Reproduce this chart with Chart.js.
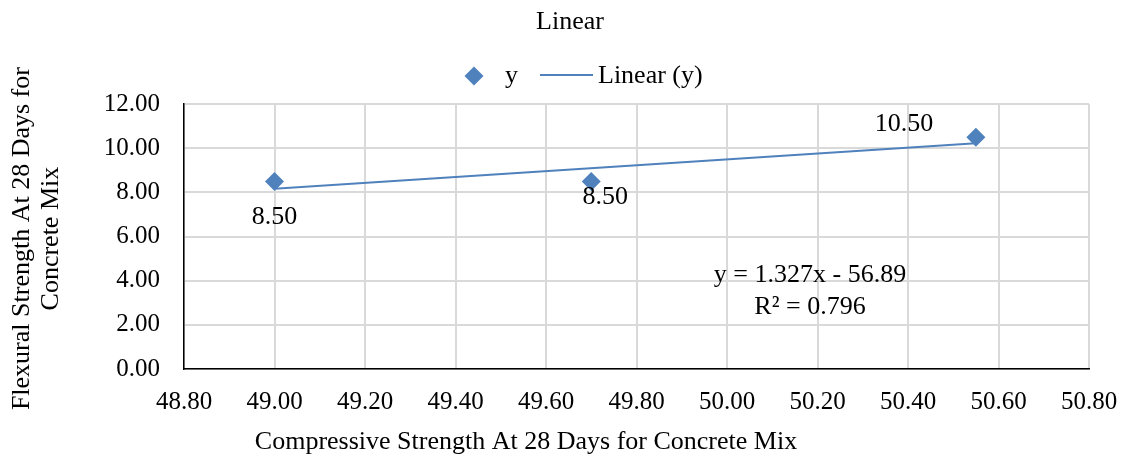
<!DOCTYPE html>
<html>
<head>
<meta charset="utf-8">
<script src="https://cdn.jsdelivr.net/npm/chart.js@4.4.1/dist/chart.umd.min.js"></script>
<style>
html,body{margin:0;padding:0;background:#ffffff;}
#wrap{width:1125px;height:464px;position:relative;}
</style>
</head>
<body>
<div id="wrap"><canvas id="c" width="1125" height="464"></canvas></div>
<script>
// ---- data ----
const xValues = [49.00, 49.70, 50.55];
const yValues = [8.50, 8.50, 10.50];
const xTicks = [48.8, 49.0, 49.2, 49.4, 49.6, 49.8, 50.0, 50.2, 50.4, 50.6, 50.8];
const yTicks = [0, 2, 4, 6, 8, 10, 12];
const seriesName = 'y';
const trendName = 'Linear (y)';
const chartTitle = 'Linear';
const xTitle = 'Compressive Strength At 28 Days for Concrete Mix';
const yTitle = ['Flexural Strength At 28 Days for', 'Concrete Mix'];
const equationLines = ['y = 1.327x - 56.89', 'R\u00B2 = 0.796'];

// ---- least squares trendline from the data ----
const n = xValues.length;
const mx = xValues.reduce((a, b) => a + b, 0) / n;
const my = yValues.reduce((a, b) => a + b, 0) / n;
let sxy = 0, sxx = 0;
for (let i = 0; i < n; i++) { sxy += (xValues[i] - mx) * (yValues[i] - my); sxx += (xValues[i] - mx) ** 2; }
const slope = sxy / sxx;
const intercept = my - slope * mx;
const xMin = Math.min(...xValues), xMax = Math.max(...xValues);
const trendData = [xMin, xMax].map(x => ({ x: x, y: slope * x + intercept }));

// ---- styles ----
const FONT = '"Liberation Serif", "Times New Roman", serif';
const BLUE = '#4F81BD';
const labelOffsets = [{ dx: 0, dy: 36 }, { dx: 14, dy: 16 }, { dx: -72, dy: -13 }];

const overlay = {
  id: 'overlay',
  afterDraw(chart) {
    const ctx = chart.ctx;
    const area = chart.chartArea;
    ctx.save();
    ctx.fillStyle = '#000';
    ctx.font = '26px ' + FONT;
    // data labels
    const meta = chart.getDatasetMeta(0);
    ctx.textAlign = 'center';
    ctx.textBaseline = 'middle';
    meta.data.forEach((el, i) => {
      const o = labelOffsets[i];
      ctx.fillText(yValues[i].toFixed(2), el.x + o.dx, el.y + o.dy);
    });
    // trendline equation
    ctx.fillText(equationLines[0], area.left + 626, area.top + 171);
    ctx.fillText(equationLines[1], area.left + 626, area.top + 203);
    // x axis title
    ctx.textBaseline = 'alphabetic';
    ctx.fillText(xTitle, 526, 449);
    // y axis title
    ctx.save();
    ctx.translate(0, (area.top + area.bottom) / 2 + 2);
    ctx.rotate(-Math.PI / 2);
    ctx.textBaseline = 'middle';
    ctx.fillText(yTitle[0], 0, 22);
    ctx.fillText(yTitle[1], 0, 51.5);
    ctx.restore();
    // legend
    const ly = 76;
    ctx.fillStyle = BLUE;
    ctx.beginPath();
    ctx.moveTo(474, ly - 9.5); ctx.lineTo(483.5, ly); ctx.lineTo(474, ly + 9.5); ctx.lineTo(464.5, ly);
    ctx.closePath(); ctx.fill();
    ctx.strokeStyle = BLUE; ctx.lineWidth = 2;
    ctx.beginPath(); ctx.moveTo(540, 75); ctx.lineTo(593, 75); ctx.stroke();
    ctx.fillStyle = '#000';
    ctx.textAlign = 'left';
    ctx.textBaseline = 'alphabetic';
    ctx.fillText(chart.data.datasets[0].label, 505, 83);
    ctx.fillText(chart.data.datasets[1].label, 598, 83);
    ctx.restore();
  }
};

new Chart(document.getElementById('c'), {
  type: 'scatter',
  data: {
    datasets: [
      {
        label: seriesName,
        data: xValues.map((x, i) => ({ x: x, y: yValues[i] })),
        pointStyle: 'rectRot',
        pointRadius: 9.5,
        pointHoverRadius: 9.5,
        backgroundColor: BLUE,
        borderColor: BLUE,
        borderWidth: 0,
        showLine: false,
        order: 0
      },
      {
        type: 'line',
        label: trendName,
        data: trendData,
        borderColor: BLUE,
        borderWidth: 2,
        pointRadius: 0,
        fill: false,
        tension: 0,
        order: 1
      }
    ]
  },
  options: {
    responsive: false,
    animation: false,
    layout: { padding: { left: 15, right: 0, top: 0, bottom: 0 } },
    plugins: {
      legend: { display: false },
      tooltip: { enabled: false },
      title: {
        display: true,
        text: chartTitle,
        color: '#000',
        font: { family: FONT, size: 26, weight: 'normal' },
        padding: { top: 7, bottom: 66 }
      }
    },
    scales: {
      x: {
        type: 'linear',
        min: xTicks[0],
        max: xTicks[xTicks.length - 1],
        afterBuildTicks: s => { s.ticks = xTicks.map(v => ({ value: v })); },
        afterFit: s => { s.height = 95; s.paddingRight = 36; s.paddingLeft = 0; },
        ticks: {
          callback: v => Number(v).toFixed(2),
          color: '#000',
          font: { family: FONT, size: 25 },
          padding: 18,
          maxRotation: 0,
          autoSkip: false
        },
        grid: { color: '#d9d9d9', lineWidth: 2, drawTicks: false },
        border: { display: true, color: '#000', width: 1.5 }
      },
      y: {
        type: 'linear',
        min: yTicks[0],
        max: yTicks[yTicks.length - 1],
        afterBuildTicks: s => { s.ticks = yTicks.map(v => ({ value: v })); },
        afterFit: s => { s.width = 169; },
        ticks: {
          callback: v => Number(v).toFixed(2),
          color: '#000',
          font: { family: FONT, size: 25 },
          padding: 24
        },
        grid: { color: '#d9d9d9', lineWidth: 2, drawTicks: false },
        border: { display: true, color: '#000', width: 1.5 }
      }
    }
  },
  plugins: [overlay]
});
</script>
</body>
</html>
